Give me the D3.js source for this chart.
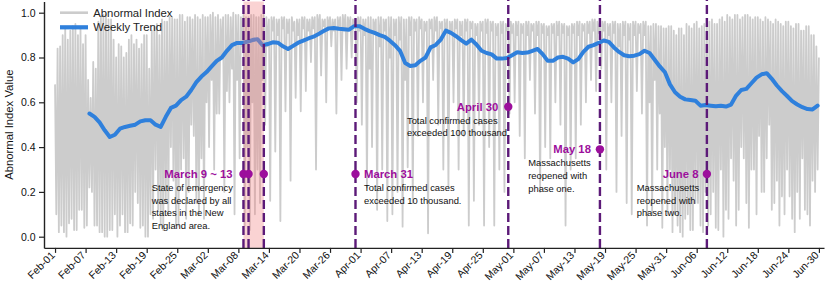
<!DOCTYPE html>
<html><head><meta charset="utf-8">
<script src="https://cdn.jsdelivr.net/npm/d3@7/dist/d3.min.js"></script>
<style>body{margin:0;background:#fff}svg{display:block;font-family:"Liberation Sans",Arial,Helvetica,sans-serif}</style>
</head><body><svg id="c" width="831" height="287"></svg>
<script>
// ---------------- DATA ----------------
const seriesStart = "2020-02-01";
// Abnormal Index, four readings per day (every 6 hours) from Feb 1 to Jun 30
const abnormalIndex = [
0.68,0.10,0.84,0.02, 0.85,0.05,0.90,0.02, 0.93,0.00,0.88,0.06, 0.92,0.08,0.94,0.03, 0.95,0.03,0.90,0.12,
0.93,0.12,0.86,0.04, 0.90,0.05,0.70,0.22, 0.62,0.20,0.78,0.05, 0.75,0.05,0.96,0.02, 0.98,0.02,0.99,0.00,
0.99,0.00,0.97,0.03, 0.97,0.03,0.88,0.10, 0.80,0.00,0.86,0.05, 0.85,0.10,0.80,0.02, 0.82,0.02,0.88,0.06,
0.90,0.05,0.86,0.20, 0.88,0.15,0.84,0.04, 0.86,0.05,0.90,0.00, 0.90,0.00,0.75,0.10, 0.92,0.08,0.94,0.30,
0.95,0.12,0.90,0.05, 0.97,0.03,0.96,0.15, 0.96,0.10,0.98,0.40, 0.98,0.25,0.97,0.05, 0.97,0.05,0.99,0.30,
0.99,0.35,0.96,0.08, 0.98,0.20,0.98,0.50, 0.97,0.45,0.99,0.15, 0.98,0.10,0.97,0.35,
// March
0.99,0.08,0.98,0.60, 0.98,0.40,0.99,0.70, 1.00,0.30,0.98,0.55, 0.99,0.55,0.97,0.80, 0.98,0.20,0.99,0.65,
0.99,0.60,0.98,0.75, 1.00,0.10,0.99,0.70, 0.99,0.35,0.98,0.85, 0.99,0.05,0.98,0.40, 0.98,0.03,0.99,0.60,
0.99,0.10,0.98,0.30, 0.98,0.15,0.99,0.70, 0.99,0.50,0.98,0.85, 0.97,0.16,0.98,0.92, 0.98,0.38,0.97,0.90,
0.97,0.07,0.98,0.93, 0.98,0.56,0.97,0.91, 0.97,0.25,0.98,0.92, 0.96,0.62,0.97,0.90, 0.97,0.56,0.98,0.93,
0.98,0.65,0.97,0.92, 0.97,0.78,0.98,0.93, 0.98,0.30,0.99,0.92, 0.99,0.72,0.97,0.94, 0.97,0.60,0.98,0.93,
0.98,0.85,0.97,0.92, 0.97,0.55,0.98,0.93, 0.98,0.70,0.99,0.92, 0.99,0.75,0.98,0.93, 0.98,0.80,0.97,0.94,
0.97,0.60,0.98,0.92,
// April
0.98,0.50,0.97,0.90, 0.97,0.22,0.98,0.75, 0.98,0.40,0.97,0.92, 0.97,0.12,0.98,0.85, 0.98,0.30,0.97,0.92,
0.97,0.07,0.98,0.80, 0.98,0.10,0.97,0.90, 0.97,0.20,0.98,0.88, 0.98,0.045,0.97,0.70, 0.97,0.31,0.98,0.90,
0.98,0.15,0.97,0.92, 0.97,0.45,0.98,0.93, 0.97,0.60,0.96,0.92, 0.96,0.015,0.97,0.93, 0.97,0.70,0.98,0.92,
0.98,0.50,0.96,0.93, 0.96,0.30,0.97,0.91, 0.97,0.22,0.96,0.92, 0.96,0.60,0.97,0.93, 0.97,0.30,0.96,0.90,
0.96,0.45,0.97,0.92, 0.97,0.05,0.96,0.93, 0.96,0.16,0.95,0.90, 0.95,0.50,0.96,0.92, 0.96,0.05,0.97,0.91,
0.97,0.40,0.96,0.92, 0.96,0.05,0.95,0.90, 0.95,0.30,0.96,0.91, 0.96,0.20,0.95,0.92, 0.95,0.55,0.96,0.91,
// May
0.95,0.60,0.96,0.90, 0.96,0.45,0.95,0.91, 0.95,0.35,0.96,0.90, 0.96,0.70,0.95,0.92, 0.95,0.55,0.96,0.90,
0.96,0.20,0.95,0.91, 0.95,0.40,0.94,0.90, 0.94,0.35,0.95,0.91, 0.95,0.60,0.96,0.90, 0.96,0.50,0.95,0.91,
0.95,0.05,0.94,0.90, 0.94,0.30,0.95,0.91, 0.95,0.35,0.96,0.90, 0.96,0.50,0.95,0.92, 0.95,0.60,0.96,0.91,
0.96,0.70,0.97,0.92, 0.97,0.65,0.96,0.91, 0.96,0.75,0.96,0.92, 0.96,0.30,0.95,0.90, 0.95,0.60,0.96,0.91,
0.96,0.20,0.95,0.85, 0.95,0.45,0.96,0.90, 0.96,0.15,0.95,0.88, 0.95,0.10,0.96,0.90, 0.96,0.65,0.95,0.91,
0.95,0.55,0.96,0.90, 0.96,0.05,0.94,0.60, 0.94,0.10,0.95,0.70, 0.95,0.30,0.94,0.55, 0.94,0.04,0.93,0.40,
0.93,0.10,0.94,0.30,
// June
0.94,0.02,0.92,0.10, 0.90,0.05,0.93,0.02, 0.93,0.00,0.90,0.08, 0.95,0.10,0.94,0.03, 0.93,0.03,0.95,0.15,
0.96,0.15,0.93,0.05, 0.94,0.02,0.95,0.20, 0.95,0.05,0.96,0.10, 0.97,0.20,0.95,0.04, 0.95,0.03,0.97,0.30,
0.98,0.00,0.96,0.12, 0.99,0.08,0.98,0.35, 0.97,0.25,0.99,0.05, 0.99,0.12,0.97,0.40, 0.98,0.35,0.99,0.15,
0.99,0.04,0.98,0.30, 0.97,0.30,0.98,0.10, 0.98,0.45,0.97,0.20, 0.96,0.20,0.98,0.35, 0.97,0.50,0.96,0.12,
0.95,0.15,0.97,0.25, 0.96,0.05,0.95,0.18, 0.94,0.10,0.96,0.30, 0.96,0.18,0.94,0.08, 0.93,0.02,0.95,0.20,
0.95,0.08,0.92,0.35, 0.92,0.12,0.94,0.10, 0.94,0.05,0.90,0.25, 0.90,0.20,0.85,0.30,
0.80
];
// weekly trend, one value per day starting Feb 7 18:00
const trendStart = "2020-02-07T18:00";
const trendValues = [
0.55,0.535,0.51,0.475,0.445,0.455,0.482,0.49,0.495,0.50,
0.515,0.52,0.52,0.50,0.49,0.535,0.575,0.585,0.61,0.625,
0.655,0.69,0.715,0.735,0.76,0.785,0.80,0.83,0.855,0.865,
0.865,0.87,0.878,0.882,0.855,0.86,0.868,0.866,0.85,0.838,
0.852,0.866,0.875,0.885,0.893,0.905,0.918,0.93,0.932,0.928,
0.926,0.924,0.94,0.94,0.928,0.918,0.91,0.90,0.892,0.875,
0.855,0.83,0.775,0.762,0.765,0.785,0.80,0.845,0.856,0.88,
0.92,0.91,0.895,0.878,0.862,0.88,0.858,0.83,0.82,0.814,
0.795,0.795,0.798,0.81,0.823,0.82,0.822,0.83,0.838,0.815,
0.785,0.785,0.80,0.803,0.795,0.778,0.793,0.825,0.848,0.855,
0.865,0.876,0.87,0.845,0.825,0.81,0.806,0.808,0.815,0.83,
0.82,0.79,0.76,0.735,0.68,0.645,0.625,0.613,0.61,0.607,
0.585,0.588,0.585,0.582,0.585,0.581,0.59,0.63,0.655,0.66,
0.685,0.71,0.725,0.73,0.705,0.675,0.65,0.628,0.605,0.59,
0.578,0.57,0.568,0.585
];
const tickLabels = ["Feb-01","Feb-07","Feb-13","Feb-19","Feb-25","Mar-02","Mar-08","Mar-14","Mar-20","Mar-26",
"Apr-01","Apr-07","Apr-13","Apr-19","Apr-25","May-01","May-07","May-13","May-19","May-25","May-31",
"Jun-06","Jun-12","Jun-18","Jun-24","Jun-30"];
const yTicks = [0.0,0.2,0.4,0.6,0.8,1.0];
const eventDates = ["2020-03-09","2020-03-10","2020-03-13","2020-03-31","2020-04-30","2020-05-18","2020-06-08"];
const eventValues = [0.28,0.28,0.28,0.28,0.58,0.39,0.28];
const shadeRange = ["2020-03-09","2020-03-13"];
const annTitles = ["March 9 ~ 13","March 31","April 30","May 18","June 8"];
const annEvent = [0,3,4,5,6];
const annText = [
 ["State of emergency","was declared by all","states in the New","England area."],
 ["Total confirmed cases","exceeded 10 thousand."],
 ["Total confirmed cases","exceeded 100 thousand."],
 ["Massachusetts","reopened with","phase one."],
 ["Massachusetts","reopened with","phase two."]
];
// ---------------- LAYOUT ----------------
const DAY = 864e5;
const toDate = s => new Date(s + (s.length===10 ? "T00:00:00Z" : ":00Z"));
const t0 = toDate(seriesStart);
const svg = d3.select("#c");
const L=44, R=824, T=1.5, B=247.9;
const x = d3.scaleUtc().domain([new Date(Date.UTC(2020,0,29,20)), new Date(Date.UTC(2020,6,1))]).range([L,R]);
const y = d3.scaleLinear().domain([-0.05,1.05]).range([B,T]);
const dayDate = d => new Date(t0.getTime() + d*DAY);

// grey series
const grey = abnormalIndex.map((v,i)=>[dayDate(i/4), v]);
const line = d3.line().x(d=>x(d[0])).y(d=>y(d[1]));
svg.append("path").datum(grey).attr("d", line).attr("fill","none")
  .attr("stroke","#cccccc").attr("stroke-width",1.8).attr("stroke-linejoin","round");

// trend
const ts = toDate(trendStart);
const trend = trendValues.map((v,i)=>[new Date(ts.getTime()+i*DAY), v]);
svg.append("path").datum(trend).attr("d", line).attr("fill","none")
  .attr("stroke","#2f80dc").attr("stroke-width",4).attr("stroke-linejoin","round").attr("stroke-linecap","round");

// shaded band
svg.append("rect").attr("x", x(toDate(shadeRange[0]))).attr("y", T)
  .attr("width", x(toDate(shadeRange[1])) - x(toDate(shadeRange[0]))).attr("height", B-T)
  .attr("fill","#f08080").attr("opacity",0.35);

// event lines
eventDates.forEach(s=>{
  const xx = x(toDate(s));
  svg.append("line").attr("x1",xx).attr("x2",xx).attr("y1",B).attr("y2",T-2)
    .attr("stroke","#5c1a78").attr("stroke-width",2.4).attr("stroke-dasharray","9,4");
});
eventDates.forEach((s,i)=>{
  svg.append("circle").attr("cx",x(toDate(s))).attr("cy",y(eventValues[i])).attr("r",4.2).attr("fill","#9c0f9c");
});

// annotations
const annLayout = [
  {tdx:-11, side:"end", ddx:-91.8},
  {tdx:8.5, side:"start", ddx:8.5},
  {tdx:-10, side:"end", ddx:-101.3},
  {tdx:-9, side:"end", ddx:-71.7},
  {tdx:-8.4, side:"end", ddx:-70.2}
];
annTitles.forEach((title,k)=>{
  const ei = annEvent[k];
  const cx = x(toDate(eventDates[ei])), cy = y(eventValues[ei]);
  const lay = annLayout[k];
  svg.append("text").attr("x",cx+lay.tdx).attr("y",cy).attr("dy","0.36em")
    .attr("text-anchor",lay.side).attr("font-size","11.3px").attr("font-weight","bold")
    .attr("fill","#9c0f9c").text(title);
  annText[k].forEach((ln,j)=>{
    svg.append("text").attr("x",cx+lay.ddx).attr("y",cy+13.6+j*12.7).attr("dy","0.36em")
      .attr("font-size","9.4px").attr("fill","#111").text(ln);
  });
});

// axes
const tickDates = tickLabels.map((s,i)=>dayDate(i*6));
const xAxis = d3.axisBottom(x).tickValues(tickDates).tickFormat((d,i)=>tickLabels[i]).tickSize(5).tickSizeOuter(0);
const gx = svg.append("g").attr("transform",`translate(0,${B})`).call(xAxis);
gx.selectAll("text").attr("text-anchor","end").attr("dy",null).attr("y",0).attr("x",0)
  .attr("transform","translate(0,8) rotate(-45)").attr("font-size","10.5px").attr("fill","#111");
const yAxis = d3.axisLeft(y).tickValues(yTicks).tickFormat(d3.format(".1f")).tickSize(5).tickPadding(3.5).tickSizeOuter(0);
const gy = svg.append("g").attr("transform",`translate(${L},0)`).call(yAxis);
gy.selectAll("text").attr("font-size","10.5px").attr("fill","#111");
[gx,gy].forEach(g=>{
  g.select(".domain").attr("stroke","#222").attr("stroke-width",1.4);
  g.selectAll(".tick line").attr("stroke","#222").attr("stroke-width",1.2);
});
svg.append("text").attr("transform",`translate(13,${(T+B)/2}) rotate(-90)`).attr("text-anchor","middle")
  .attr("font-size","11.3px").attr("fill","#111").text("Abnormal Index Value");

// legend
const leg = svg.append("g");
leg.append("line").attr("x1",60).attr("x2",88).attr("y1",12.7).attr("y2",12.7).attr("stroke","#cccccc").attr("stroke-width",2.6);
leg.append("line").attr("x1",60).attr("x2",88).attr("y1",27.3).attr("y2",27.3).attr("stroke","#2f80dc").attr("stroke-width",4.2);
leg.append("text").attr("x",93.3).attr("y",12.7).attr("dy","0.36em").attr("font-size","11.3px").attr("fill","#222").text("Abnormal Index");
leg.append("text").attr("x",93.3).attr("y",27.3).attr("dy","0.36em").attr("font-size","11.3px").attr("fill","#222").text("Weekly Trend");
</script></body></html>
